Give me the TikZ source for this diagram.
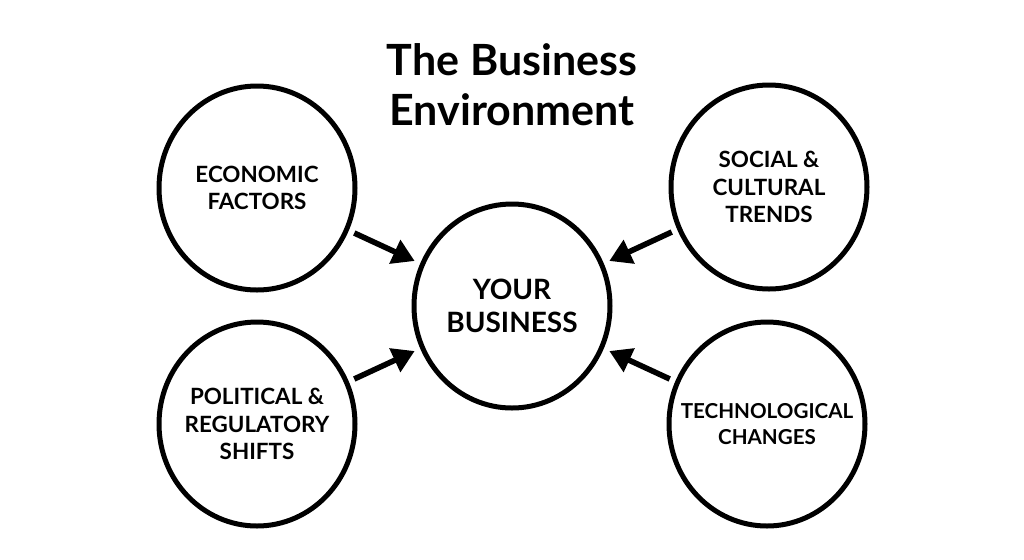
\documentclass[tikz,border=0pt]{standalone}
\usepackage{fontspec}
\setmainfont{Lato}
\usetikzlibrary{shapes.geometric,arrows.meta}
\tikzset{factor/.style={ellipse, draw, line width=2.5pt, minimum width=98pt, minimum height=102pt, inner sep=0pt},
  factortext/.style={align=center, font=\bfseries\fontsize{11.2}{13.6}\selectfont, inner sep=0pt},
  coretext/.style={align=center, font=\bfseries\fontsize{14}{16.6}\selectfont, inner sep=0pt},
  feed/.style={-{Triangle[length=11pt,width=12.5pt]}, line width=2.8pt, shorten <=3pt, shorten >=3pt}}

\begin{document}
\begin{tikzpicture}[x=0.5pt,y=-0.5pt]
  \useasboundingbox (0,0) rectangle (1024,559);

  \node[align=center, font=\bfseries\fontsize{21.5}{25}\selectfont, inner sep=0pt] (title) at (512,85) {The Business\\Environment};

  \node[factor] (core) at (512,306) {};
  \node[factor] (econ) at (257,188) {};
  \node[factor] (social) at (769,187) {};
  \node[factor] (polit) at (257,424) {};
  \node[factor] (tech) at (767,424) {};

  \node[coretext]   (coret)   at (core)   {YOUR\\BUSINESS};
  \node[factortext] (econt)   at (econ)   {ECONOMIC\\FACTORS};
  \node[factortext] (socialt) at (social) {SOCIAL \&\\CULTURAL\\TRENDS};
  \node[factortext] (politt)  at (polit)  {POLITICAL \&\\REGULATORY\\SHIFTS};
  \node[factortext, font=\bfseries\fontsize{10.3}{13.4}\selectfont] (techt) at (tech) {TECHNOLOGICAL\\CHANGES};

  \draw[feed] (econ)   -- (core);
  \draw[feed] (social) -- (core);
  \draw[feed] (polit)  -- (core);
  \draw[feed] (tech)   -- (core);
\end{tikzpicture}
\end{document}
